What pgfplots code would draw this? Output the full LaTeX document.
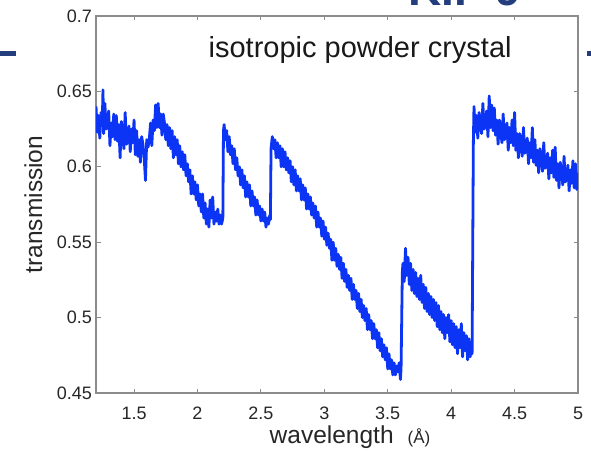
\documentclass[border=0pt]{standalone}
\usepackage{fontspec}
\setmainfont{Liberation Sans}
\usepackage{pgfplots}
\pgfplotsset{compat=1.18}
\usepackage{pgfplotstable}
\definecolor{lineblue}{RGB}{12,52,245}
\definecolor{navy}{RGB}{36,62,125}
\definecolor{framegray}{RGB}{140,140,140}

\pgfplotstableread{
x y
1.20 0.640
1.21 0.623
1.22 0.634
1.23 0.619
1.24 0.636
1.25 0.631
1.255 0.651
1.26 0.622
1.27 0.642
1.28 0.625
1.29 0.628
1.30 0.637
1.31 0.614
1.32 0.629
1.33 0.620
1.34 0.635
1.35 0.618
1.36 0.634
1.37 0.617
1.38 0.628
1.39 0.606
1.40 0.630
1.41 0.621
1.42 0.612
1.43 0.636
1.44 0.615
1.45 0.618
1.46 0.627
1.47 0.610
1.48 0.625
1.49 0.616
1.50 0.631
1.51 0.608
1.52 0.624
1.53 0.607
1.54 0.618
1.55 0.603
1.56 0.620
1.57 0.615
1.58 0.606
1.59 0.591
1.60 0.618
1.61 0.613
1.62 0.618
1.63 0.629
1.64 0.614
1.65 0.631
1.66 0.624
1.67 0.641
1.68 0.626
1.69 0.642
1.70 0.626
1.71 0.635
1.72 0.621
1.73 0.635
1.74 0.629
1.75 0.618
1.76 0.628
1.77 0.614
1.78 0.626
1.79 0.612
1.80 0.624
1.81 0.606
1.82 0.620
1.83 0.608
1.84 0.618
1.85 0.602
1.86 0.614
1.87 0.600
1.88 0.610
1.89 0.598
1.90 0.608
1.91 0.594
1.92 0.602
1.93 0.590
1.94 0.598
1.95 0.582
1.96 0.594
1.97 0.582
1.98 0.590
1.99 0.578
2.00 0.588
2.01 0.574
2.02 0.582
2.03 0.570
2.04 0.582
2.05 0.566
2.06 0.576
2.07 0.562
2.08 0.572
2.09 0.560
2.10 0.578
2.11 0.566
2.12 0.580
2.13 0.562
2.14 0.570
2.15 0.564
2.16 0.572
2.17 0.562
2.18 0.568
2.19 0.562
2.20 0.566
2.205 0.624
2.21 0.628
2.22 0.618
2.23 0.624
2.24 0.610
2.25 0.620
2.26 0.608
2.27 0.614
2.28 0.602
2.29 0.612
2.30 0.598
2.31 0.606
2.32 0.594
2.33 0.600
2.34 0.588
2.35 0.598
2.36 0.586
2.37 0.594
2.38 0.580
2.39 0.590
2.40 0.580
2.41 0.588
2.42 0.574
2.43 0.584
2.44 0.574
2.45 0.580
2.46 0.568
2.47 0.578
2.48 0.568
2.49 0.574
2.50 0.564
2.51 0.572
2.52 0.564
2.53 0.570
2.54 0.560
2.55 0.566
2.56 0.562
2.57 0.568
2.575 0.565
2.58 0.612
2.59 0.620
2.60 0.612
2.61 0.618
2.62 0.606
2.63 0.616
2.64 0.606
2.65 0.614
2.66 0.600
2.67 0.612
2.68 0.600
2.69 0.610
2.70 0.598
2.71 0.606
2.72 0.596
2.73 0.604
2.74 0.590
2.75 0.600
2.76 0.588
2.77 0.598
2.78 0.584
2.79 0.594
2.80 0.584
2.81 0.592
2.82 0.578
2.83 0.588
2.84 0.578
2.85 0.586
2.86 0.572
2.87 0.582
2.88 0.572
2.89 0.580
2.90 0.568
2.91 0.576
2.92 0.566
2.93 0.574
2.94 0.560
2.95 0.570
2.96 0.560
2.97 0.566
2.98 0.554
2.99 0.564
3.00 0.552
3.01 0.560
3.02 0.548
3.03 0.556
3.04 0.546
3.05 0.552
3.06 0.538
3.07 0.550
3.08 0.538
3.09 0.546
3.10 0.534
3.11 0.542
3.12 0.532
3.13 0.540
3.14 0.526
3.15 0.536
3.16 0.524
3.17 0.532
3.18 0.520
3.19 0.528
3.20 0.518
3.21 0.526
3.22 0.512
3.23 0.522
3.24 0.512
3.25 0.518
3.26 0.506
3.27 0.516
3.28 0.504
3.29 0.512
3.30 0.500
3.31 0.508
3.32 0.498
3.33 0.506
3.34 0.492
3.35 0.502
3.36 0.492
3.37 0.498
3.38 0.486
3.39 0.496
3.40 0.486
3.41 0.492
3.42 0.480
3.43 0.490
3.44 0.478
3.45 0.486
3.46 0.474
3.47 0.482
3.48 0.472
3.49 0.480
3.50 0.466
3.51 0.476
3.52 0.466
3.53 0.472
3.54 0.462
3.55 0.470
3.56 0.462
3.57 0.468
3.58 0.464
3.59 0.470
3.60 0.459
3.605 0.466
3.615 0.530
3.62 0.536
3.63 0.524
3.64 0.546
3.65 0.528
3.66 0.540
3.67 0.522
3.68 0.536
3.69 0.518
3.70 0.532
3.71 0.516
3.72 0.530
3.73 0.514
3.74 0.526
3.75 0.512
3.76 0.528
3.77 0.510
3.78 0.522
3.79 0.506
3.80 0.520
3.81 0.504
3.82 0.516
3.83 0.502
3.84 0.514
3.85 0.500
3.86 0.512
3.87 0.498
3.88 0.510
3.89 0.494
3.90 0.508
3.91 0.492
3.92 0.504
3.93 0.490
3.94 0.502
3.95 0.486
3.96 0.500
3.97 0.490
3.98 0.502
3.99 0.484
4.00 0.498
4.01 0.482
4.02 0.496
4.03 0.480
4.04 0.494
4.05 0.476
4.06 0.492
4.07 0.480
4.08 0.496
4.09 0.474
4.10 0.490
4.11 0.478
4.12 0.488
4.13 0.472
4.14 0.486
4.15 0.474
4.16 0.482
4.165 0.476
4.175 0.616
4.18 0.640
4.19 0.623
4.20 0.634
4.21 0.619
4.22 0.636
4.23 0.631
4.24 0.622
4.25 0.642
4.26 0.625
4.27 0.628
4.28 0.637
4.29 0.620
4.30 0.647
4.31 0.626
4.32 0.641
4.33 0.624
4.34 0.639
4.35 0.621
4.36 0.631
4.37 0.615
4.38 0.631
4.39 0.625
4.40 0.616
4.41 0.635
4.42 0.618
4.43 0.620
4.44 0.629
4.45 0.611
4.46 0.626
4.47 0.616
4.48 0.631
4.49 0.614
4.50 0.636
4.51 0.611
4.52 0.622
4.53 0.606
4.54 0.622
4.55 0.617
4.56 0.607
4.57 0.626
4.58 0.609
4.59 0.611
4.60 0.619
4.61 0.602
4.62 0.616
4.63 0.606
4.64 0.626
4.65 0.603
4.66 0.618
4.67 0.601
4.68 0.611
4.69 0.596
4.70 0.612
4.71 0.607
4.72 0.597
4.73 0.616
4.74 0.599
4.75 0.601
4.76 0.609
4.77 0.592
4.78 0.606
4.79 0.596
4.80 0.611
4.81 0.593
4.82 0.613
4.83 0.591
4.84 0.602
4.85 0.586
4.86 0.603
4.87 0.597
4.88 0.588
4.89 0.607
4.90 0.590
4.91 0.592
4.92 0.601
4.93 0.584
4.94 0.598
4.95 0.589
4.96 0.604
4.97 0.586
4.98 0.602
4.99 0.585
5.00 0.596
}\transdata

\begin{document}
\begin{tikzpicture}
\begin{axis}[
  scale only axis,
  width=482pt, height=377pt,
  xmin=1.2, xmax=5, ymin=0.45, ymax=0.7,
  xtick={1.5,2,2.5,3,3.5,4,4.5,5},
  ytick={0.45,0.5,0.55,0.6,0.65,0.7},
  xticklabels={1.5,2,2.5,3,3.5,4,4.5,5},
  yticklabels={0.45,0.5,0.55,0.6,0.65,0.7},
  tick align=inside,
  major tick length=4.5pt,
  tick style={framegray, line width=0.9pt},
  axis line style={framegray, line width=1.6pt},
  ticklabel style={font=\fontsize{18}{20}\selectfont, text=black!85},
  xticklabel style={inner sep=0pt, anchor=north, yshift=-14pt},
  yticklabel style={inner sep=0pt, anchor=east, xshift=-4pt},
  xlabel={wavelength\hspace{14pt}{\fontsize{17}{19}\selectfont(Å)}},
  xlabel style={at={(axis description cs:0.527,-0.135)}, anchor=base, inner sep=0pt, font=\fontsize{24.5}{28}\selectfont, text=black!85},
  ylabel={transmission},
  ylabel style={at={(axis description cs:-0.112,0.5)}, anchor=base, inner sep=0pt, font=\fontsize{24.5}{28}\selectfont, text=black!85},
  clip=true,
]
\addplot[lineblue, line width=2.8pt, line join=round] table[x=x, y=y] {\transdata};
\node[anchor=base, inner sep=0pt, font=\fontsize{29}{33}\selectfont, text=black!90] at (axis description cs:0.548,0.891) {isotropic powder crystal};
\coordinate (bl) at (rel axis cs:0,0);
\end{axis}
\fill[navy] (bl) ++(-96pt,337pt) rectangle ++(16pt,5pt);
\fill[navy] (bl) ++(491pt,337pt) rectangle ++(4pt,5pt);
\node[anchor=base west, inner sep=0pt, font=\bfseries\fontsize{46}{50}\selectfont, text=navy] at ([shift={(312pt,387pt)}]bl) {KIF 9};
\pgfresetboundingbox
\path[use as bounding box] (bl) ++(-96pt,-57pt) rectangle ++(591pt,450pt);
\end{tikzpicture}
\end{document}
